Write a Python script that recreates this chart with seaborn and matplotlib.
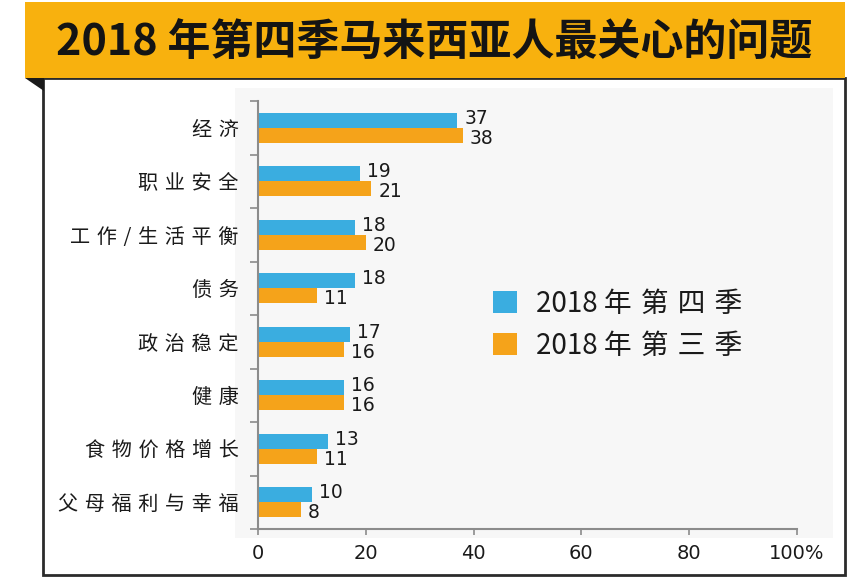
"""
2018 年第四季马来西亚人最关心的问题 - 横向分组柱状图
"""
import matplotlib
matplotlib.use("Agg")
import matplotlib.pyplot as plt
from matplotlib.patches import Rectangle, Polygon
import pandas as pd
import seaborn as sns

# ---- 数据 ----
wen_ti = ["经济", "职业安全", "工作/生活平衡", "债务", "政治稳定", "健康", "食物价格增长", "父母福利与幸福"]
q4_2018 = [37, 19, 18, 18, 17, 16, 13, 10]
q3_2018 = [38, 21, 20, 11, 16, 16, 11, 8]
ji_du = ["2018 年第四季", "2018 年第三季"]
x_ticks = [0, 20, 40, 60, 80, 100]
x_tick_labels = ["0", "20", "40", "60", "80", "100%"]
tieu_de = "2018 年第四季马来西亚人最关心的问题"

MAU_XANH = "#3AADE0"
MAU_CAM = "#F5A31A"
MAU_BANNER = "#F8B10E"
MAU_TRUC = "#8c8c8c"
KHOANG = "\u2004"  # khoảng cách giữa các chữ

df = pd.DataFrame({
    "问题": wen_ti * 2,
    "值": q4_2018 + q3_2018,
    "季度": [ji_du[0]] * len(wen_ti) + [ji_du[1]] * len(wen_ti),
})

sns.set_theme(style="white")
plt.rcParams["font.family"] = ["Noto Sans CJK SC", "DejaVu Sans"]

W, H = 848, 578
fig = plt.figure(figsize=(W / 100, H / 100), dpi=100)


def px(x0, y0, x1, y1):
    """pixel box (top-left origin) -> figure fraction rect"""
    return (x0 / W, 1 - y1 / H, (x1 - x0) / W, (y1 - y0) / H)


def gian_chu(s):
    """chèn khoảng giữa các chữ Hán, giữ nguyên cụm số"""
    out = ""
    for i, ch in enumerate(s):
        out += ch
        if i < len(s) - 1 and not (ch.isdigit() and s[i + 1].isdigit()) and ch != " " and s[i + 1] != " ":
            out += KHOANG
    return out


# --- khung ngoài + banner tiêu đề ---
x, y, w, h = px(43, 78, 845, 575)
fig.patches.append(Rectangle((x, y), w, h, transform=fig.transFigure,
                             facecolor="white", edgecolor="#2b2b2b", linewidth=2, zorder=0))
x, y, w, h = px(235, 88, 833, 538)
fig.patches.append(Rectangle((x, y), w, h, transform=fig.transFigure,
                             facecolor="#f7f7f7", edgecolor="none", zorder=0.5))
x, y, w, h = px(25, 2, 845, 78)
fig.patches.append(Rectangle((x, y), w, h, transform=fig.transFigure,
                             facecolor=MAU_BANNER, edgecolor="none", zorder=1))
fig.patches.append(Polygon([(25 / W, 1 - 78 / H), (44 / W, 1 - 78 / H), (44 / W, 1 - 91 / H)],
                           closed=True, transform=fig.transFigure,
                           facecolor="#1a1a1a", edgecolor="none", zorder=1))
fig.text(434 / W, 1 - 42 / H, tieu_de, ha="center", va="center",
         fontsize=31, fontweight="heavy", color="#141414", zorder=2)

# --- biểu đồ ---
ax = fig.add_axes(px(258, 101, 797, 529))
ax.set_zorder(3)
ax.set_facecolor("none")
sns.barplot(data=df, y="问题", x="值", hue="季度", orient="h",
            palette=[MAU_XANH, MAU_CAM], width=0.57, saturation=1,
            linewidth=0, edgecolor="none", ax=ax)

# nhãn giá trị: xanh hơi lên, cam hơi xuống
for c, dy in zip(ax.containers, [1.5, -2.0]):
    for bar, v in zip(c, c.datavalues):
        ax.annotate(f"{v:.0f}", xy=(bar.get_width(), bar.get_y() + bar.get_height() / 2),
                    xytext=(5, dy), textcoords="offset points", ha="left", va="center",
                    fontsize=13.5, color="#1a1a1a", family="DejaVu Sans")

ax.set_xlim(0, 100)
ax.set_ylim(len(wen_ti) - 0.5, -0.5)
ax.set_xlabel("")
ax.set_ylabel("")
ax.set_xticks(x_ticks)
ax.set_xticklabels(x_tick_labels, fontsize=14, color="#1a1a1a", family="DejaVu Sans")
ax.set_yticks(range(len(wen_ti)))
ax.set_yticklabels([gian_chu(t) for t in wen_ti], fontsize=14.5, color="#1a1a1a")
ax.set_yticks([i - 0.5 for i in range(len(wen_ti) + 1)], minor=True)

ax.tick_params(axis="y", which="major", left=True, length=0, pad=14)
ax.tick_params(axis="y", which="minor", left=True, length=6, width=1.2, color=MAU_TRUC, direction="out")
ax.tick_params(axis="x", which="major", bottom=True, length=4.5, width=1.2, color=MAU_TRUC,
               direction="out", pad=6)
ax.tick_params(axis="x", which="minor", bottom=False)

for s in ["top", "right"]:
    ax.spines[s].set_visible(False)
for s in ["left", "bottom"]:
    ax.spines[s].set_color(MAU_TRUC)
    ax.spines[s].set_linewidth(1.5)

handles, _ = ax.get_legend_handles_labels()
ax.legend(handles, [gian_chu(t) for t in ji_du], loc="center left", bbox_to_anchor=(0.39, 0.477),
          frameon=False, fontsize=20, handlelength=0.85, handleheight=0.85,
          handletextpad=0.7, labelspacing=0.42, labelcolor="#1a1a1a")

plt.savefig("out.png", dpi=100)
plt.close()
